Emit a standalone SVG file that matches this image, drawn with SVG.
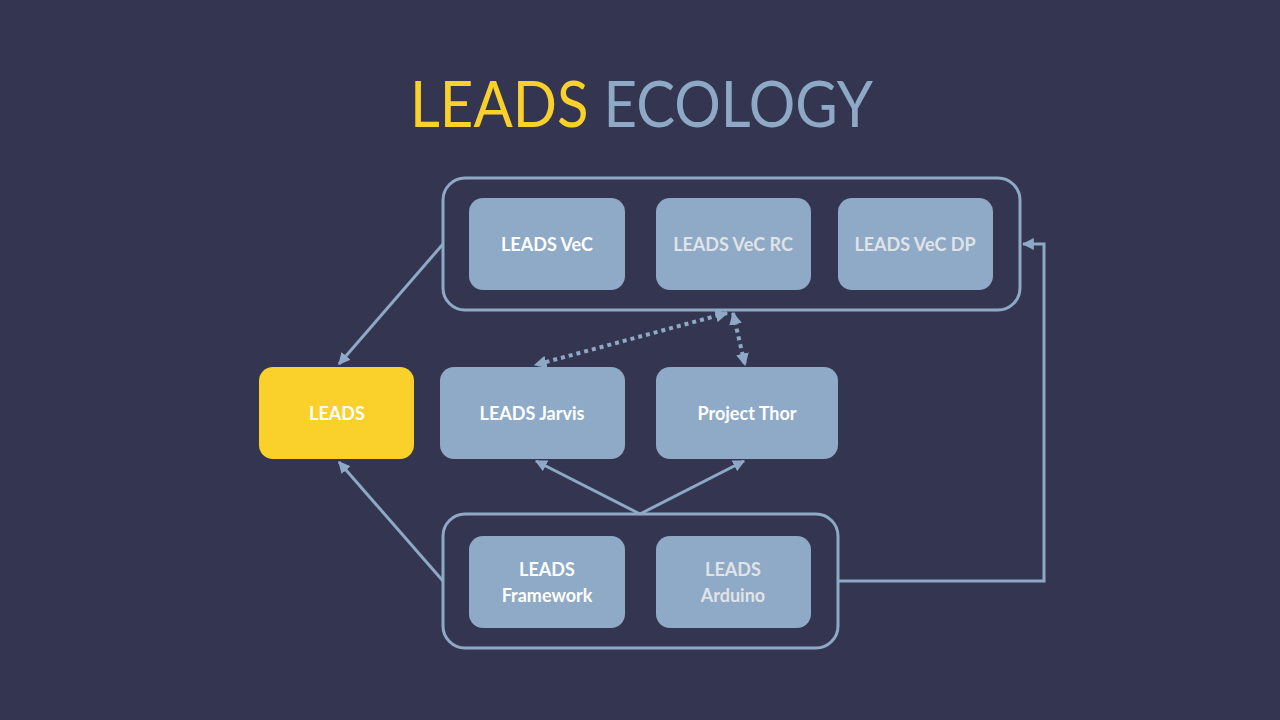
<svg xmlns="http://www.w3.org/2000/svg" width="1280" height="720" viewBox="0 0 1280 720">
<defs>
<style>
.bg{fill:#343651}
.grp{fill:none;stroke:#8EA9C5;stroke-width:3}
.box{fill:#8EAAC6}
.lead{fill:#F9D12A}
.lbl{font-family:"Lato","Open Sans",sans-serif;font-weight:700;font-size:18px;text-anchor:middle;dominant-baseline:central}
.w{fill:#FFFFFF}
.g{fill:#E0E3E8}
.ln{fill:none;stroke:#8EA9C5;stroke-width:3}
.dot{fill:none;stroke:#8EA9C5;stroke-width:4;stroke-dasharray:4 4}
</style>
<marker id="ah" viewBox="0 0 10 10" refX="9" refY="5" markerWidth="4" markerHeight="4" orient="auto-start-reverse" markerUnits="strokeWidth">
<path d="M0,0 L10,5 L0,10 z" fill="#8EA9C5"/>
</marker>
<marker id="ahd" viewBox="0 0 10 10" refX="9" refY="5" markerWidth="3.2" markerHeight="3.2" orient="auto-start-reverse" markerUnits="strokeWidth">
<path d="M0,0 L10,5 L0,10 z" fill="#8EA9C5"/>
</marker>
</defs>
<rect class="bg" x="0" y="0" width="1280" height="720"/>
<text x="410" y="127" font-family="Lato,'Open Sans',sans-serif" font-size="63" textLength="463" lengthAdjust="spacingAndGlyphs"><tspan fill="#F9D12A">LEADS</tspan> <tspan fill="#8EA9C5">ECOLOGY</tspan></text>

<g id="connectors">
<line class="ln" x1="443" y1="244" x2="339" y2="364" marker-end="url(#ah)"/>
<line class="ln" x1="443" y1="581" x2="339" y2="462" marker-end="url(#ah)"/>
<line class="ln" x1="640" y1="514" x2="536" y2="461" marker-end="url(#ah)"/>
<line class="ln" x1="640" y1="514" x2="744" y2="461" marker-end="url(#ah)"/>
<polyline class="ln" points="838,581 1044,581 1044,244 1023,244" marker-end="url(#ah)"/>
<line class="dot" x1="727" y1="313" x2="535" y2="365" marker-start="url(#ahd)" marker-end="url(#ahd)"/>
<line class="dot" x1="733" y1="313" x2="745" y2="365" marker-start="url(#ahd)" marker-end="url(#ahd)"/>
</g>

<g id="vec-group"><rect class="grp" x="443" y="178" width="577" height="132" rx="22"/></g>
<g id="leads-vec"><rect class="box" x="469" y="198" width="156" height="92" rx="14"/><text class="lbl w" x="547" y="244">LEADS VeC</text></g>
<g id="leads-vec-rc"><rect class="box" x="656" y="198" width="155" height="92" rx="14"/><text class="lbl g" x="733" y="244">LEADS VeC RC</text></g>
<g id="leads-vec-dp"><rect class="box" x="838" y="198" width="155" height="92" rx="14"/><text class="lbl g" x="915" y="244">LEADS VeC DP</text></g>

<g id="leads"><rect class="lead" x="259" y="367" width="155" height="92" rx="14"/><text class="lbl w" x="337" y="413">LEADS</text></g>
<g id="leads-jarvis"><rect class="box" x="440" y="367" width="185" height="92" rx="14"/><text class="lbl w" x="532" y="413">LEADS Jarvis</text></g>
<g id="project-thor"><rect class="box" x="656" y="367" width="182" height="92" rx="14"/><text class="lbl w" x="747" y="413">Project Thor</text></g>

<g id="base-group"><rect class="grp" x="443" y="514" width="395" height="134" rx="22"/></g>
<g id="leads-framework"><rect class="box" x="469" y="536" width="156" height="92" rx="14"/><text class="lbl w" x="547" y="569">LEADS</text><text class="lbl w" x="547" y="595">Framework</text></g>
<g id="leads-arduino"><rect class="box" x="656" y="536" width="155" height="92" rx="14"/><text class="lbl g" x="733" y="569">LEADS</text><text class="lbl g" x="733" y="595">Arduino</text></g>
</svg>
